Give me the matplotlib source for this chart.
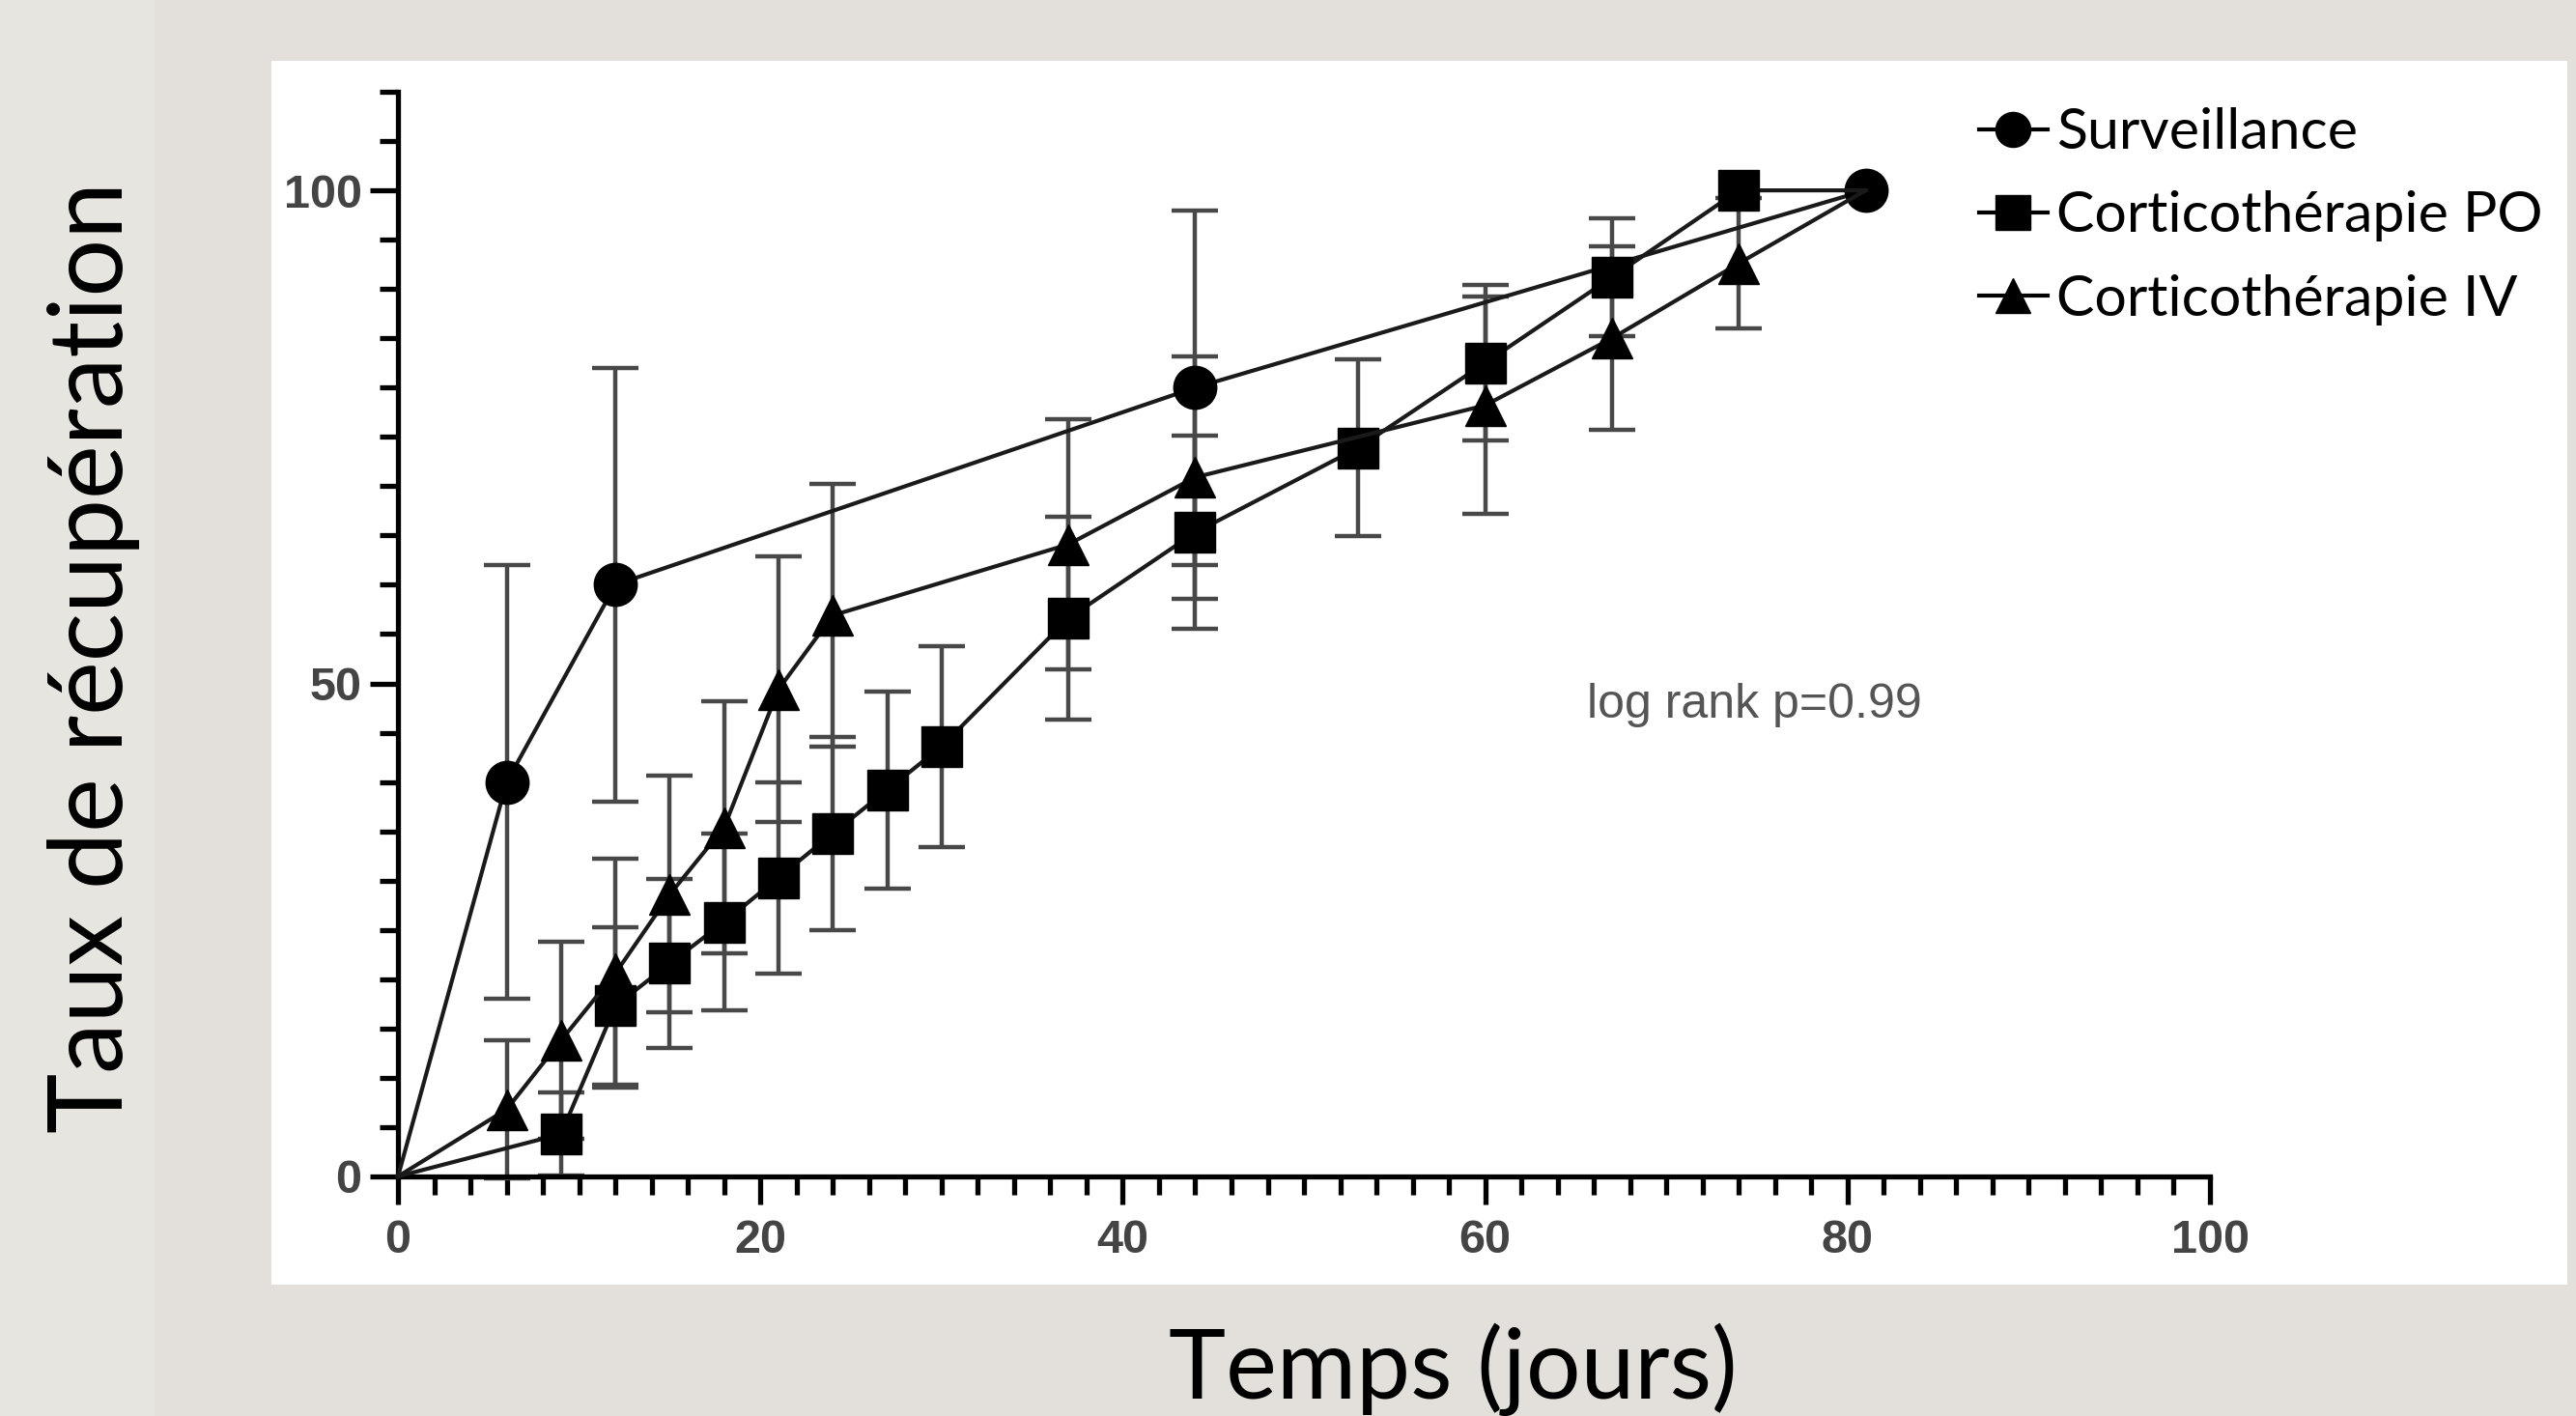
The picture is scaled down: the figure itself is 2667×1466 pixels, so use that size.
import matplotlib
matplotlib.use('Agg')
from matplotlib import pyplot as plt
from matplotlib.patches import Rectangle
from matplotlib.lines import Line2D
from matplotlib.ticker import MultipleLocator

# Surveillance (cercles)
surv_x = [0, 6, 12, 44, 81]
surv_y = [0, 40, 60, 80, 100]
surv_err = [0, 22, 22, 18, 0]

# Corticothérapie PO (carrés)
po_x = [0, 9, 12, 15, 18, 21, 24, 27, 30, 37, 44, 53, 60, 67, 74, 81]
po_y = [0, 4.3, 17.3, 21.6, 25.8, 30.3, 34.8, 39.2, 43.6, 56.6, 65.3, 73.9, 82.5, 91.2, 100, 100]
po_err = [0, 4.2, 8, 8.6, 9, 9.7, 9.8, 10, 10.2, 10.3, 9.8, 9, 7.9, 6, 0, 0]

# Corticothérapie IV (triangles)
iv_x = [0, 6, 9, 12, 15, 18, 21, 24, 37, 44, 60, 67, 74, 81]
iv_y = [0, 6.8, 13.8, 20.6, 28.6, 35.4, 49.4, 56.9, 64.1, 70.9, 78.2, 85.0, 92.6, 100]
iv_err = [0, 7, 10, 11.6, 12, 12.8, 13.5, 13.3, 12.7, 12.3, 11, 9.3, 6.6, 0]

labels = ['Surveillance', 'Corticothérapie PO', 'Corticothérapie IV']
x_ticks = [0, 20, 40, 60, 80, 100]
y_ticks = [0, 50, 100]

fig = plt.figure(figsize=(26.67, 14.66), dpi=100)
fig.patch.set_facecolor('#e3e0db')
fig.patches.append(Rectangle((0, 0), 0.06, 1, transform=fig.transFigure,
                             facecolor='#e7e5e0', edgecolor='none', zorder=0))
fig.patches.append(Rectangle((0.1054, 0.0928), 0.8912, 0.8642, transform=fig.transFigure,
                             facecolor='white', edgecolor='none', zorder=0.5))

ax = fig.add_axes([0.1545, 0.1692, 0.7034, 0.766])
ax.set_zorder(2)
ax.patch.set_visible(False)

series = [(surv_x, surv_y, surv_err, 'o', 32),
          (po_x, po_y, po_err, 's', 30),
          (iv_x, iv_y, iv_err, '^', 30)]

for xs, ys, errs, mk, ms in series:
    ex = [x for x, e in zip(xs, errs) if e > 0]
    ey = [y for y, e in zip(ys, errs) if e > 0]
    ee = [e for e in errs if e > 0]
    ax.errorbar(ex, ey, yerr=ee, fmt='none', ecolor='#484848', elinewidth=3.2,
                capsize=17, capthick=3.2, zorder=2, clip_on=False)
    n = len(xs)
    every = list(range(1, n)) if mk == 'o' else list(range(1, n - 1))
    ax.plot(xs, ys, color='#1a1a1a', lw=3, marker=mk, ms=ms, markevery=every,
            mfc='black', mec='black', zorder=3, clip_on=False)

ax.text(65.6, 47.8, 'log rank p=0.99', fontsize=36, color='#555555',
        family='Liberation Sans', va='center', ha='left')

ax.set_xlim(0, 100)
ax.set_ylim(0, 110)
ax.set_xticks(x_ticks)
ax.set_yticks(y_ticks)
ax.xaxis.set_minor_locator(MultipleLocator(2))
ax.yaxis.set_minor_locator(MultipleLocator(5))
for s in ['top', 'right']:
    ax.spines[s].set_visible(False)
for s in ['left', 'bottom']:
    ax.spines[s].set_linewidth(3.8)
    ax.spines[s].set_color('black')
ax.tick_params(axis='both', which='major', length=21, width=3.8, color='black',
               labelsize=35, labelcolor='#444444')
ax.tick_params(axis='both', which='minor', length=14, width=3.8, color='black')
ax.tick_params(axis='x', which='major', pad=11)
ax.tick_params(axis='y', which='major', pad=6)
for lab in ax.get_xticklabels() + ax.get_yticklabels():
    lab.set_fontweight('bold')
    lab.set_family('Liberation Sans')

fig.text(0.0364, 0.536, 'Taux de récupération', rotation=90, fontsize=76,
         family='Lato', ha='center', va='center', color='black')
fig.text(0.564, 0.033, 'Temps (jours)', fontsize=72, family='Lato',
         ha='center', va='center', color='black')

handles = [Line2D([0], [0], color='black', lw=3, marker=m, ms=26, mfc='black', mec='black')
           for m in ['o', 's', '^']]
fig.legend(handles, labels, loc='upper left', bbox_to_anchor=(2049 / 2667, 0.924),
           frameon=False, prop={'family': 'Lato', 'size': 42.5}, handlelength=1.2,
           handletextpad=0.15, labelspacing=0.56, borderpad=0, borderaxespad=0)

fig.savefig('out.png', dpi=100, facecolor=fig.get_facecolor())
